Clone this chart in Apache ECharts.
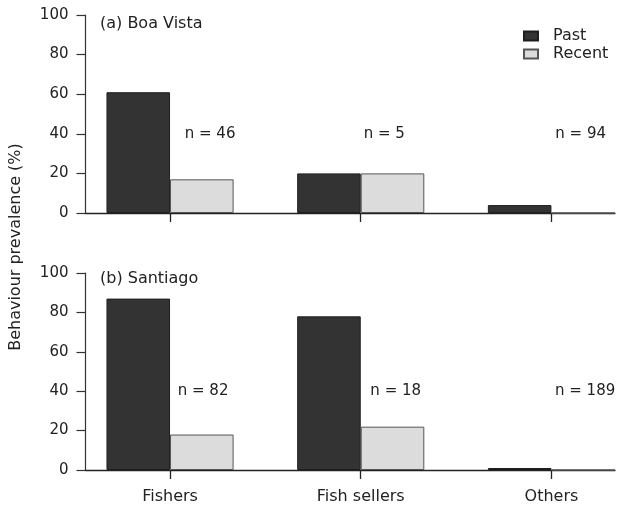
<!DOCTYPE html>
<html>
<head>
<meta charset="utf-8">
<script src="https://cdn.jsdelivr.net/npm/echarts@6/dist/echarts.min.js"></script>
<style>
  html, body { margin: 0; padding: 0; background: #fff; }
  #chart { width: 630px; height: 507px; }
</style>
</head>
<body>
<div id="chart"></div>
<script>
// Groups along the x axis
const categories = ['Fishers', 'Fish sellers', 'Others'];
const seriesNames = ['Past', 'Recent'];

// Behaviour prevalence (%) per group
const boaVistaPast = [61, 20, 4];
const boaVistaRecent = [17, 20, 0];
const santiagoPast = [87, 78, 1];
const santiagoRecent = [18, 22, 0];

// Sample sizes per group
const boaVistaN = [46, 5, 94];
const santiagoN = [82, 18, 189];

const panelTitles = ['(a) Boa Vista', '(b) Santiago'];
const yTicks = [0, 20, 40, 60, 80, 100];

// Layout: each bar is one x unit wide, groups sit 3 units apart
const FONT = 'DejaVu Sans';
const GRID_LEFT = 85.5, GRID_RIGHT = 15;
const X_MIN = -1.33, X_MAX = 7.0;
const plotW = 630 - GRID_LEFT - GRID_RIGHT;
const unitPx = plotW / (X_MAX - X_MIN);
const groupCentre = i => 3 * i;           // tick under each group
const nLabelX = [[0.63, 3.37, 6.46], [0.52, 3.55, 6.53]];

const grids = [
  { left: GRID_LEFT, right: GRID_RIGHT, top: 15, height: 198 },
  { left: GRID_LEFT, right: GRID_RIGHT, top: 273, height: 197 }
];

function xAxisFor(gi, showLabels) {
  return {
    type: 'value', gridIndex: gi, min: X_MIN, max: X_MAX,
    splitLine: { show: false },
    axisLine: { show: true, onZero: false, lineStyle: { color: '#222', width: 1.3 } },
    axisTick: {
      show: true, inside: false, length: 9,
      customValues: categories.map((c, i) => groupCentre(i)),
      lineStyle: { color: '#222', width: 1.3 }
    },
    axisLabel: {
      show: showLabels, margin: 19,
      customValues: categories.map((c, i) => groupCentre(i)),
      formatter: v => categories[Math.round(v / 3)] || '',
      fontFamily: FONT, fontSize: 16, color: '#222'
    }
  };
}

function yAxisFor(gi) {
  return {
    type: 'value', gridIndex: gi, min: 0, max: 100, interval: 20,
    splitLine: { show: false },
    axisLine: { show: true, onZero: false, lineStyle: { color: '#333', width: 1.2 } },
    axisTick: { show: true, length: 9, lineStyle: { color: '#333', width: 1.2 } },
    axisLabel: {
      margin: 17, fontFamily: FONT, fontSize: 15, color: '#222',
      formatter: v => (yTicks.indexOf(v) >= 0 ? String(v) : '')
    }
  };
}

const pastStyle = { color: '#333333', borderColor: '#1e1e1e', borderWidth: 1 };
const recentStyle = { color: '#dcdcdc', borderColor: '#555', borderWidth: 1 };

function barSeries(name, gi, values, offset, style) {
  return {
    name, type: 'bar', xAxisIndex: gi, yAxisIndex: gi,
    barWidth: unitPx, barGap: '-100%',
    data: values.map((v, i) => [groupCentre(i) + offset, v]),
    itemStyle: style, silent: true, animation: false
  };
}

function nSeries(gi, ns) {
  return {
    type: 'scatter', xAxisIndex: gi, yAxisIndex: gi, symbolSize: 0,
    itemStyle: { opacity: 1 },
    data: ns.map((n, i) => [nLabelX[gi][i], 40, n]),
    label: {
      show: true, position: 'inside',
      formatter: p => 'n = ' + p.data[2],
      fontFamily: FONT, fontSize: 15, color: '#222'
    },
    silent: true, animation: false
  };
}

const chart = echarts.init(document.getElementById('chart'), null, { renderer: 'canvas' });
chart.setOption({
  backgroundColor: '#ffffff',
  animation: false,
  grid: grids,
  xAxis: [xAxisFor(0, false), xAxisFor(1, true)],
  yAxis: [yAxisFor(0), yAxisFor(1)],
  legend: {
    data: seriesNames, orient: 'vertical', left: 523, top: 28, padding: 0,
    itemWidth: 14, itemHeight: 9, itemGap: 2, icon: 'rect',
    textStyle: { fontFamily: FONT, fontSize: 16, color: '#222', padding: [0, 0, 0, 10] }
  },
  series: [
    barSeries('Past', 0, boaVistaPast, -0.5, pastStyle),
    barSeries('Recent', 0, boaVistaRecent, 0.5, recentStyle),
    barSeries('Past', 1, santiagoPast, -0.5, pastStyle),
    barSeries('Recent', 1, santiagoRecent, 0.5, recentStyle),
    nSeries(0, boaVistaN),
    nSeries(1, santiagoN)
  ],
  graphic: [
    { type: 'text', left: 100, top: 16,
      style: { text: panelTitles[0], font: '16px "' + FONT + '"', fill: '#222' } },
    { type: 'text', left: 100, top: 271,
      style: { text: panelTitles[1], font: '16px "' + FONT + '"', fill: '#222' } },
    { type: 'text', x: 16, y: 247, rotation: Math.PI / 2,
      style: { text: 'Behaviour prevalence (%)', font: '16px "' + FONT + '"', fill: '#222',
               align: 'center', verticalAlign: 'middle' } }
  ]
});
</script>
</body>
</html>
